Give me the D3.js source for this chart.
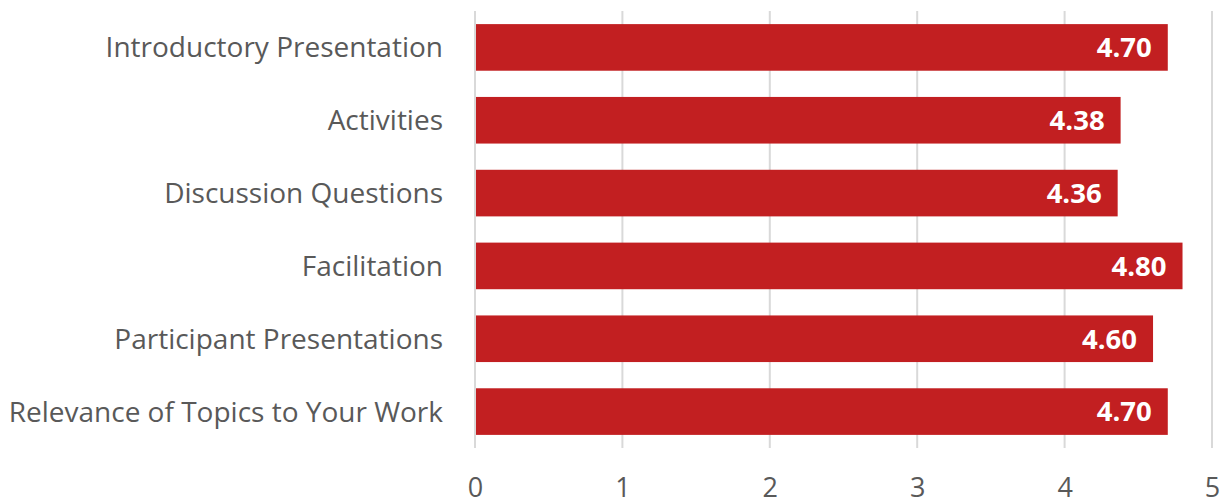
<!DOCTYPE html>
<html>
<head>
<meta charset="utf-8">
<script src="https://cdn.jsdelivr.net/npm/d3@7"></script>
<style>
  html, body { margin: 0; padding: 0; background: #fff; }
  svg { display: block; }
  text { font-family: "Open Sans", "Noto Sans", sans-serif; }
</style>
</head>
<body>
<svg id="chart" width="1225" height="504"></svg>
<script>
// Session ratings (average score out of 5)
const categories = [
  "Introductory Presentation",
  "Activities",
  "Discussion Questions",
  "Facilitation",
  "Participant Presentations",
  "Relevance of Topics to Your Work"
];
const ratings = [4.70, 4.38, 4.36, 4.80, 4.60, 4.70];
const tickValues = [0, 1, 2, 3, 4, 5];

const width = 1225, height = 504;
const margin = { top: 11, right: 13, bottom: 56, left: 475 };

const svg = d3.select("#chart");

const x = d3.scaleLinear()
  .domain([0, 5])
  .range([margin.left, width - margin.right]);

const y = d3.scaleBand()
  .domain(categories)
  .range([margin.top, height - margin.bottom])
  .paddingInner(0.36)
  .paddingOuter(0.18);

// vertical gridlines
svg.append("g")
  .selectAll("line")
  .data(tickValues)
  .join("line")
  .attr("x1", d => x(d))
  .attr("x2", d => x(d))
  .attr("y1", margin.top)
  .attr("y2", height - margin.bottom)
  .attr("stroke", "#d9d9d9")
  .attr("stroke-width", 2);

// bars
svg.append("g")
  .selectAll("rect")
  .data(ratings)
  .join("rect")
  .attr("x", x(0) + 1)
  .attr("y", (d, i) => y(categories[i]))
  .attr("width", d => x(d) - x(0) - 1)
  .attr("height", y.bandwidth())
  .attr("fill", "#c21f21");

// value labels inside bar ends
svg.append("g")
  .selectAll("text")
  .data(ratings)
  .join("text")
  .attr("x", d => x(d) - 16)
  .attr("y", (d, i) => y(categories[i]) + y.bandwidth() / 2)
  .attr("dy", "0.36em")
  .attr("text-anchor", "end")
  .attr("fill", "#ffffff")
  .attr("font-weight", 700)
  .attr("font-size", 27.5)
  .text(d => d.toFixed(2));

// category axis labels
svg.append("g")
  .selectAll("text")
  .data(categories)
  .join("text")
  .attr("x", margin.left - 32)
  .attr("y", d => y(d) + y.bandwidth() / 2)
  .attr("dy", "0.36em")
  .attr("text-anchor", "end")
  .attr("fill", "#595959")
  .attr("font-size", 28)
  .text(d => d);

// value axis tick labels
const xAxis = d3.axisBottom(x)
  .tickValues(tickValues)
  .tickSize(0)
  .tickPadding(0)
  .tickFormat(d3.format("d"));

const axisG = svg.append("g")
  .attr("transform", `translate(0, ${height - 7})`)
  .call(xAxis);
axisG.select(".domain").remove();
axisG.selectAll("text")
  .attr("fill", "#595959")
  .attr("font-size", 27)
  .attr("font-family", "\"Open Sans\", \"Noto Sans\", sans-serif")
  .attr("dy", "0")
  .attr("y", 0);
</script>
</body>
</html>
